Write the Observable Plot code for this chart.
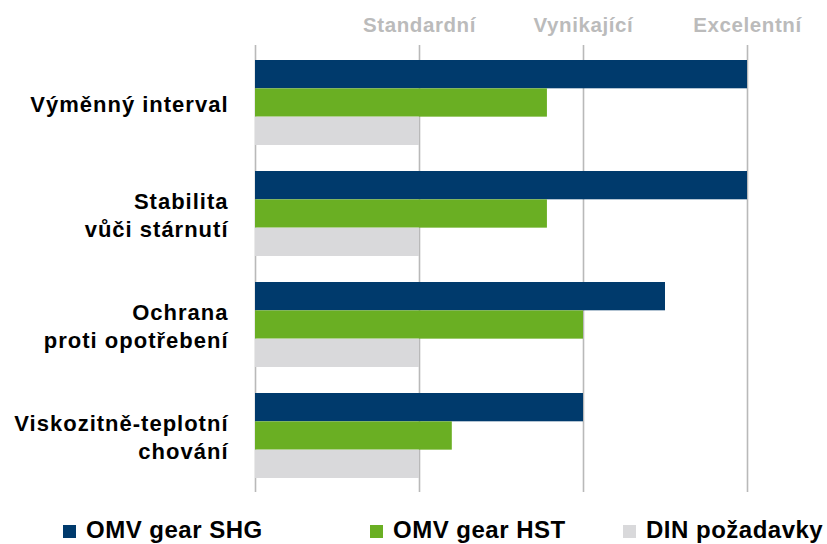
<!DOCTYPE html>
<html><head><meta charset="utf-8">
<script src="https://cdn.jsdelivr.net/npm/d3@7"></script>
<script src="https://cdn.jsdelivr.net/npm/@observablehq/plot@0.6"></script>
<style>
body{margin:0;background:#fff;}
#wrap{width:827px;height:544px;overflow:hidden;font-family:"Liberation Sans",Arial,sans-serif;}
#wrap svg{display:block;font-family:"Liberation Sans",Arial,sans-serif;}
g[aria-label="y-axis tick label"]{letter-spacing:1px;}
g[aria-label="x-axis tick label"]{letter-spacing:0.6px;}
.legend{display:grid;grid-template-columns:307px 253px auto;padding-left:63px;margin-top:13px;font-size:24px;font-weight:bold;line-height:23px;letter-spacing:0.5px;color:#000;white-space:nowrap;}
.legend .sw{display:inline-block;width:13px;height:13px;margin-right:10px;vertical-align:baseline;}
</style></head><body><div id="wrap"></div>
<script>
const categories = ["Výměnný interval", "Stabilita\nvůči stárnutí", "Ochrana\nproti opotřebení", "Viskozitně-teplotní\nchování"];
const series = ["OMV gear SHG", "OMV gear HST", "DIN požadavky"];
const colors = ["#003a6c", "#6aaf23", "#d9d9db"];
const shgValues = [3, 3, 2.5, 2];
const hstValues = [1.78, 1.78, 2, 1.2];
const dinValues = [1, 1, 1, 1];
const levelTicks = [1, 2, 3];
const levelLabels = ["Standardní", "Vynikající", "Excelentní"];
const gridTicks = [0, 1, 2, 3];

const yRange = [59, 478];
const padInner = 0.236;
const step = (yRange[1] - yRange[0]) / (categories.length - padInner);
const bw = step * (1 - padInner);
const third = bw / 3;

const rows = vals => categories.map((c, i) => ({cat: c, value: vals[i]}));

const plot = Plot.plot({
  width: 827,
  height: 505,
  marginLeft: 255,
  marginRight: 80,
  marginTop: 45,
  marginBottom: 13,
  x: {domain: [0, 3], axis: null},
  y: {domain: categories, range: yRange, paddingInner: padInner, paddingOuter: 0, axis: null},
  marks: [
    Plot.ruleX(gridTicks, {stroke: "#b9b9b9", strokeWidth: 1.6}),
    Plot.barX(rows(shgValues), {x: "value", y: "cat", fill: colors[0], insetBottom: 2 * third}),
    Plot.barX(rows(hstValues), {x: "value", y: "cat", fill: colors[1], insetTop: third, insetBottom: third}),
    Plot.barX(rows(dinValues), {x: "value", y: "cat", fill: colors[2], insetTop: 2 * third}),
    Plot.axisX(levelTicks, {anchor: "top", tickSize: 0, tickPadding: 14, tickFormat: d => levelLabels[d - 1], fill: "#bbbbbb", fontSize: 20.5, fontWeight: "bold", label: null}),
    Plot.axisY({anchor: "left", tickSize: 0, tickPadding: 27, fill: "#000", fontSize: 22, fontWeight: "bold", lineHeight: 1.28, label: null})
  ]
});

const wrap = document.getElementById("wrap");
wrap.appendChild(plot);
const legend = document.createElement("div");
legend.className = "legend";
series.forEach((s, i) => {
  const item = document.createElement("div");
  const sw = document.createElement("span");
  sw.className = "sw";
  sw.style.background = colors[i];
  item.appendChild(sw);
  item.appendChild(document.createTextNode(s));
  legend.appendChild(item);
});
wrap.appendChild(legend);
</script>
</body></html>
